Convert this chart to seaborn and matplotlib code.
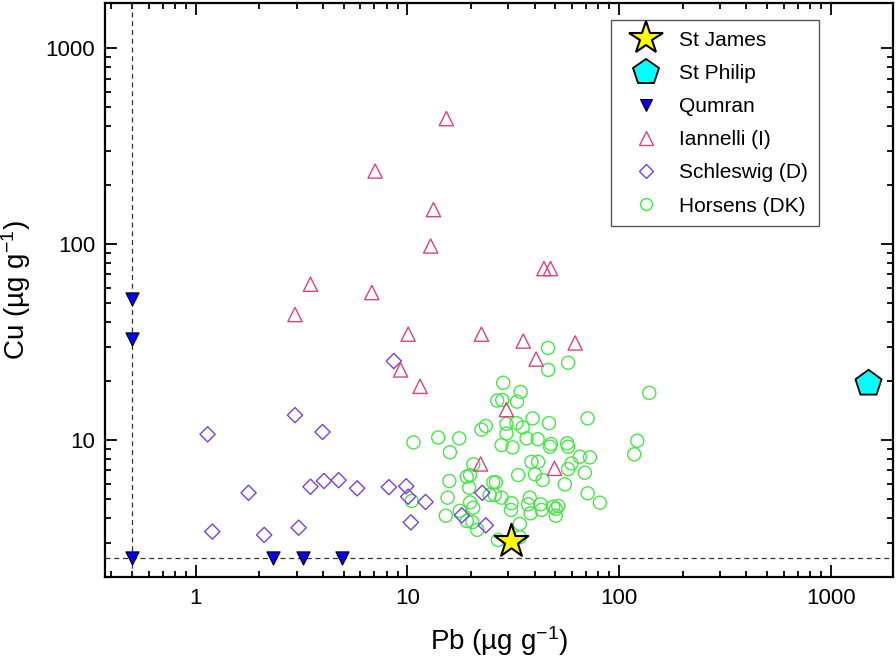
import seaborn as sns
import matplotlib.pyplot as plt
from matplotlib.lines import Line2D
from matplotlib.ticker import LogLocator, FuncFormatter, NullFormatter

# Horsens (DK)
horsens_pb = [46.2, 57.5, 46.3, 28.4, 34.3, 28.1, 26.6, 33.0, 139, 22.4,
              23.5, 29.4, 32.8, 35.1, 39.1, 46.7, 71.1, 29.4, 36.6, 41.3,
              47.7, 56.9, 27.9, 31.4, 10.7, 14.0, 17.6, 15.9, 20.5, 19.1,
              19.8, 15.8, 19.6, 25.5, 10.5, 15.5, 19.8, 20.5, 24.5, 17.7,
              15.2, 19.1, 20.3, 21.4, 26.8, 38.6, 41.5, 33.4, 40.1, 43.6,
              55.5, 71.1, 26.2, 25.9, 27.9, 31.1, 30.9, 37.9, 37.2, 42.6,
              48.9, 51.6, 50.3, 38.2, 43.1, 50.3, 34.0, 47.2, 57.5, 65.3,
              59.7, 57.5, 72.9, 69.0, 81.2, 122, 118, 34.0]
horsens_cu = [29.5, 24.8, 22.8, 19.6, 17.6, 16.0, 15.9, 15.7, 17.4, 11.3,
              11.8, 12.1, 12.2, 11.6, 12.9, 12.2, 12.9, 10.8, 10.2, 10.1,
              9.54, 9.62, 9.43, 9.18, 9.73, 10.3, 10.2, 8.66, 7.52, 6.50,
              6.63, 6.18, 5.71, 6.09, 4.89, 5.08, 4.81, 4.52, 5.25, 4.35,
              4.11, 3.86, 3.81, 3.48, 3.09, 7.74, 7.74, 6.63, 6.68, 6.25,
              5.94, 5.35, 6.09, 5.25, 5.08, 4.76, 4.40, 5.08, 4.70, 4.70,
              4.57, 4.61, 4.45, 4.23, 4.40, 4.11, 3.73, 9.25, 9.25, 8.22,
              7.60, 7.11, 8.16, 6.81, 4.79, 9.92, 8.46, 3.19]

# Schleswig (D)
schleswig_pb = [8.64, 2.95, 3.98, 1.14, 1.78, 3.49, 4.04, 4.74, 5.80, 8.19,
                9.89, 10.1, 12.2, 10.4, 1.20, 2.11, 3.07, 18.1, 22.6, 23.5]
schleswig_cu = [25.3, 13.4, 11.0, 10.7, 5.38, 5.78, 6.18, 6.24, 5.67, 5.75,
                5.81, 5.14, 4.83, 3.80, 3.41, 3.28, 3.57, 4.13, 5.38, 3.67]

# Iannelli (I)
iannelli_pb = [15.3, 7.05, 13.3, 12.9, 3.49, 6.8, 2.95, 10.1, 22.4, 9.3,
               11.5, 22.2, 44.2, 47.5, 35.3, 62.1, 40.6, 29.4, 49.6]
iannelli_cu = [437, 236, 150, 97.8, 62.4, 56.6, 43.7, 34.7, 34.7, 22.8,
               18.8, 7.55, 75, 75, 32.0, 31.3, 25.9, 14.3, 7.17]

# Qumran
qumran_pb = [0.5, 0.5, 0.5, 2.32, 3.21, 4.91]
qumran_cu = [52.4, 32.6, 2.5, 2.5, 2.5, 2.5]

st_james_pb = [31]
st_james_cu = [3.05]
st_philip_pb = [1500]
st_philip_cu = [19.5]

detection_pb = 0.5
detection_cu = 2.5

sns.set_style("ticks")
plt.rcParams["font.family"] = ["Liberation Sans", "DejaVu Sans"]
plt.rcParams["mathtext.default"] = "regular"
plt.rcParams["text.color"] = "black"
plt.rcParams["axes.labelcolor"] = "black"
plt.rcParams["xtick.color"] = "black"
plt.rcParams["ytick.color"] = "black"

fig, ax = plt.subplots(figsize=(8.96, 6.70), dpi=100)
fig.subplots_adjust(left=0.117, right=0.9967, top=0.9955, bottom=0.1388)

ax.set_xscale("log")
ax.set_yscale("log")

ax.axhline(detection_cu, color="#333333", ls=(0, (4, 3)), lw=0.9, zorder=1)
ax.axvline(detection_pb, color="#333333", ls=(0, (4, 3)), lw=0.9, zorder=1)

green = "#44e844"
purple = "#7a3fe0"
pink = "#e0407f"

sns.scatterplot(x=horsens_pb, y=horsens_cu, marker="o", s=88,
                facecolor="none", edgecolor=green, linewidth=1.0, ax=ax, zorder=2)
sns.scatterplot(x=schleswig_pb, y=schleswig_cu, marker="D", s=60,
                facecolor="none", edgecolor=purple, linewidth=1.0, ax=ax, zorder=3)
sns.scatterplot(x=iannelli_pb, y=iannelli_cu, marker="^", s=105,
                facecolor="none", edgecolor=pink, linewidth=1.0, ax=ax, zorder=3)
sns.scatterplot(x=qumran_pb, y=qumran_cu, marker="v", s=90,
                facecolor="#0000ff", edgecolor="black", linewidth=0.8, ax=ax, zorder=4)
sns.scatterplot(x=st_philip_pb, y=st_philip_cu, marker="p", s=390,
                facecolor="#00ffff", edgecolor="black", linewidth=1.3, ax=ax, zorder=5)
sns.scatterplot(x=st_james_pb, y=st_james_cu, marker="*", s=650,
                facecolor="#ffff00", edgecolor="black", linewidth=1.5, ax=ax, zorder=6)

ax.set_xlim(0.373, 1970)
ax.set_ylim(2.0, 1700)

ax.xaxis.set_major_locator(LogLocator(base=10))
ax.yaxis.set_major_locator(LogLocator(base=10))
ax.xaxis.set_minor_locator(LogLocator(base=10, subs=range(2, 10)))
ax.yaxis.set_minor_locator(LogLocator(base=10, subs=range(2, 10)))
fmt = FuncFormatter(lambda v, p: f"{v:g}")
ax.xaxis.set_major_formatter(fmt)
ax.yaxis.set_major_formatter(fmt)
ax.xaxis.set_minor_formatter(NullFormatter())
ax.yaxis.set_minor_formatter(NullFormatter())

ax.tick_params(which="both", direction="in", top=True, right=True,
               width=1.3, colors="black")
ax.tick_params(which="major", length=8.5, labelsize=16)
ax.tick_params(which="minor", length=4.5)
ax.tick_params(axis="x", which="major", pad=8)
ax.tick_params(axis="y", which="major", pad=7)
for sp in ax.spines.values():
    sp.set_linewidth(1.6)
    sp.set_color("black")

ax.set_xlabel("Pb (µg g$^{-1}$)", fontsize=20, labelpad=11)
ax.set_ylabel("Cu (µg g$^{-1}$)", fontsize=20, labelpad=9)

handles = [
    Line2D([], [], ls="none", marker="*", markersize=25, markerfacecolor="#ffff00",
           markeredgecolor="black", markeredgewidth=1.5),
    Line2D([], [], ls="none", marker="p", markersize=19, markerfacecolor="#00ffff",
           markeredgecolor="black", markeredgewidth=1.3),
    Line2D([], [], ls="none", marker="v", markersize=9, markerfacecolor="#0000ff",
           markeredgecolor="black", markeredgewidth=0.8),
    Line2D([], [], ls="none", marker="^", markersize=9.5, markerfacecolor="none",
           markeredgecolor=pink, markeredgewidth=1.0),
    Line2D([], [], ls="none", marker="D", markersize=7, markerfacecolor="none",
           markeredgecolor=purple, markeredgewidth=1.0),
    Line2D([], [], ls="none", marker="o", markersize=8.5, markerfacecolor="none",
           markeredgecolor=green, markeredgewidth=1.0),
]
labels = ["St James", "St Philip", "Qumran", "Iannelli (I)", "Schleswig (D)", "Horsens (DK)"]
leg = ax.legend(handles, labels, loc="upper right", bbox_to_anchor=(0.919, 0.988),
                fontsize=15, frameon=True, fancybox=False, framealpha=1,
                edgecolor="#555555", handlelength=2.4, borderpad=0.5,
                labelspacing=0.68, handletextpad=0.4)
leg.get_frame().set_linewidth(1.0)

plt.savefig("out.png", dpi=100)
